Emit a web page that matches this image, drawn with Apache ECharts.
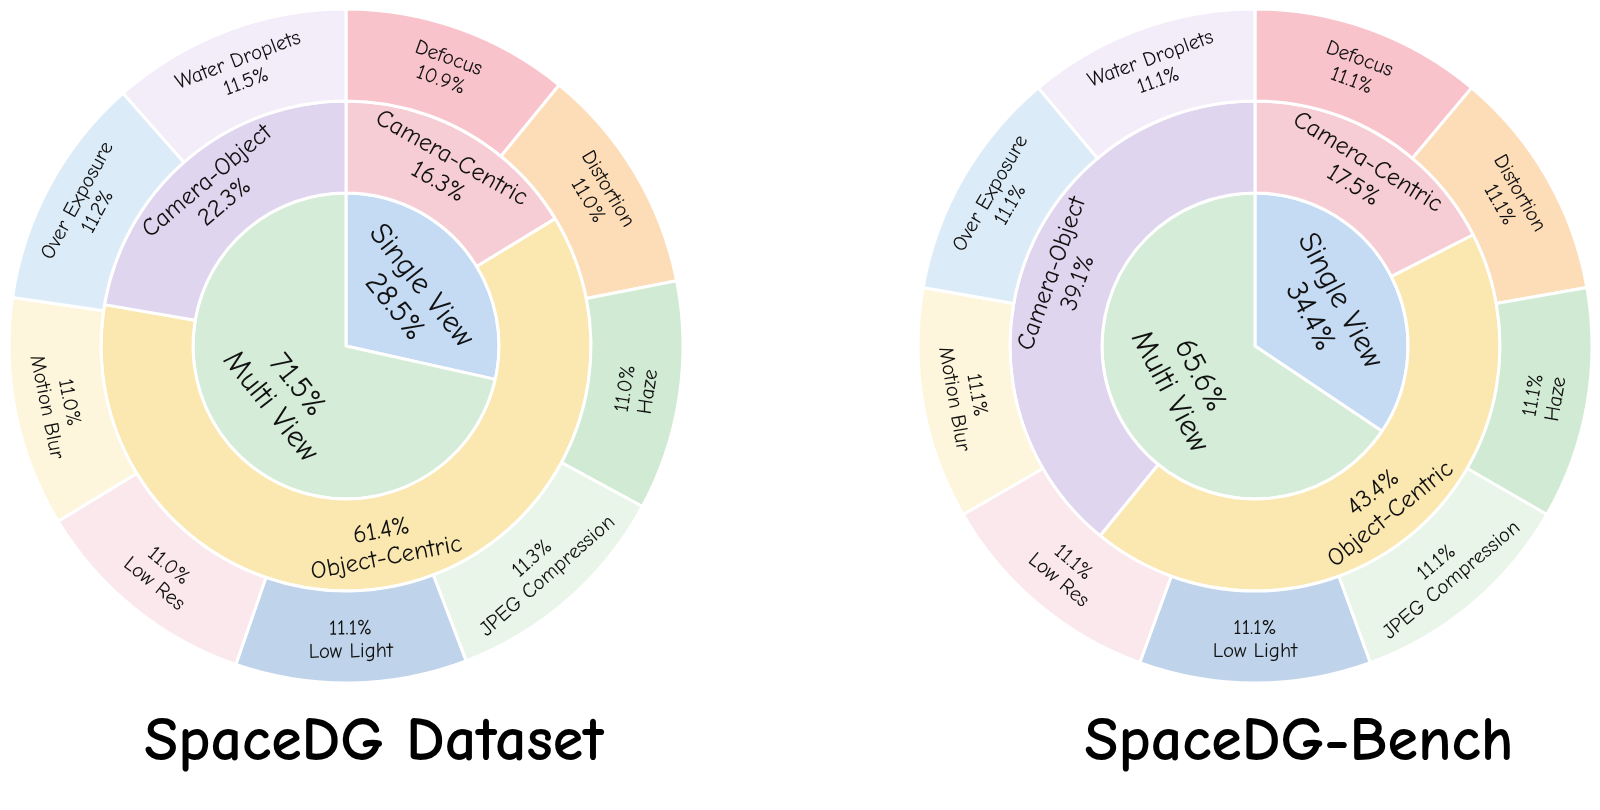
<!DOCTYPE html>
<html>
<head>
<meta charset="utf-8">
<script src="https://cdn.jsdelivr.net/npm/echarts@6/dist/echarts.min.js"></script>
<style>
  html, body { margin: 0; padding: 0; background: #fff; }
  #chart { width: 1600px; height: 810px; }
</style>
</head>
<body>
<div id="chart"></div>
<script>
const FONT = '"Comic Sans MS", "Comic Neue", "Open Sans", sans-serif';

// Left: SpaceDG Dataset, right: SpaceDG-Bench
const innerNames = ['Single View', 'Multi View'];
const innerLeft = [28.5, 71.5];
const innerRight = [34.4, 65.6];

const middleNames = ['Camera-Centric', 'Object-Centric', 'Camera-Object'];
const middleLeft = [16.3, 61.4, 22.3];
const middleRight = [17.5, 43.4, 39.1];

const outerNames = ['Defocus', 'Distortion', 'Haze', 'JPEG Compression', 'Low Light',
    'Low Res', 'Motion Blur', 'Over Exposure', 'Water Droplets'];
const outerLeft = [10.9, 11.0, 11.0, 11.3, 11.1, 11.0, 11.0, 11.2, 11.5];
const outerRight = [11.1, 11.1, 11.1, 11.1, 11.1, 11.1, 11.1, 11.1, 11.1];

const innerColors = ['#c5daf3', '#d5ecd8'];
const middleColors = ['#f6cdd5', '#fbe8b0', '#e0d5ee'];
const outerColors = ['#f9c3cb', '#fddcb8', '#d0ead3', '#e9f5e8', '#bfd3ea',
    '#fbe8ec', '#fdf6dc', '#dcebf8', '#f3ecf9'];

const titles = ['SpaceDG Dataset', 'SpaceDG-Bench'];

// Names in the lower half read with the percentage first
function buildData(names, values, colors) {
    const total = values.reduce((a, b) => a + b, 0);
    let acc = 0;
    return names.map((name, i) => {
        const mid = (acc + values[i] / 2) / total;
        acc += values[i];
        const pct = values[i].toFixed(1) + '%';
        const text = (mid > 0.25 && mid < 0.75) ? pct + '\n' + name : name + '\n' + pct;
        return { name, value: values[i], itemStyle: { color: colors[i] }, label: { formatter: text } };
    });
}

function ring(center, radius, data, fontSize) {
    return {
        type: 'pie',
        center,
        radius,
        startAngle: 90,
        clockwise: true,
        silent: true,
        data,
        itemStyle: { borderColor: '#fff', borderWidth: 3 },
        label: {
            show: true,
            position: 'inside',
            rotate: 'tangential',
            fontFamily: FONT,
            fontSize,
            color: '#111',
            lineHeight: fontSize * 1.1
        },
        labelLine: { show: false }
    };
}

const centers = [[346, 346], [1255, 346]];
const sets = [
    [innerLeft, middleLeft, outerLeft],
    [innerRight, middleRight, outerRight]
];

const series = [];
sets.forEach((s, k) => {
    series.push(ring(centers[k], [0, 153], buildData(innerNames, s[0], innerColors), 31));
    series.push(ring(centers[k], [153, 245], buildData(middleNames, s[1], middleColors), 25));
    series.push(ring(centers[k], [245, 337], buildData(outerNames, s[2], outerColors), 21));
});

const chart = echarts.init(document.getElementById('chart'));
chart.setOption({
    animation: false,
    title: titles.map((t, k) => ({
        text: t,
        left: [369, 1294][k],
        top: 706,
        textAlign: 'center',
        textStyle: { fontFamily: FONT, fontSize: 62, fontWeight: 'bold', color: '#000' }
    })),
    series
});
</script>
</body>
</html>
